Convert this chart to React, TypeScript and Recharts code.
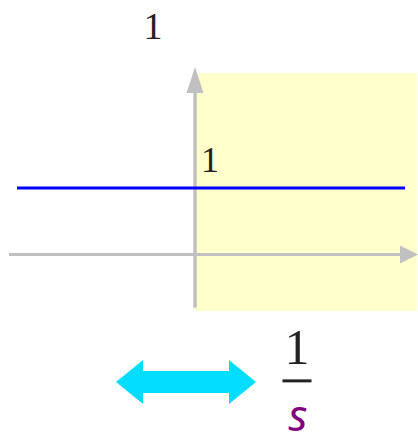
import React from 'react';
import { ComposedChart, Line, XAxis, YAxis, ReferenceArea, ReferenceLine, ReferenceDot } from 'recharts';

// f(t) = 1 drawn across the visible range
const tValues = [-3.56, 4.2];
const fValues = [1, 1];
const topLabel = '1';
const tickLabel = '1';
const numerator = '1';
const denominator = 's';

const data = tValues.map((t, i) => ({ t, f: fValues[i] }));

const GRAY = '#c0c0c0';
const SERIF = '"Liberation Serif", "DejaVu Serif", serif';

const TextShape = (text: string, size: number, dx = 0, dy = 0) => (props: any) => (
  <text x={props.cx + dx} y={props.cy + dy} textAnchor="middle" fontFamily={SERIF} fontSize={size} fill="#222">
    {text}
  </text>
);

const RightArrowHead = (props: any) => {
  const { cx, cy } = props;
  return <polygon points={`${cx},${cy - 9} ${cx + 18},${cy} ${cx},${cy + 9}`} fill={GRAY} />;
};

const UpArrowHead = (props: any) => {
  const { cx, cy } = props;
  return <polygon points={`${cx - 8.5},${cy} ${cx},${cy - 26} ${cx + 8.5},${cy}`} fill={GRAY} />;
};

const DoubleArrow = (props: any) => {
  const { cx, cy } = props;
  const half = 70, head = 27, hh = 22, sh = 11;
  const pts = [
    [cx - half, cy],
    [cx - half + head, cy - hh],
    [cx - half + head, cy - sh],
    [cx + half - head, cy - sh],
    [cx + half - head, cy - hh],
    [cx + half, cy],
    [cx + half - head, cy + hh],
    [cx + half - head, cy + sh],
    [cx - half + head, cy + sh],
    [cx - half + head, cy + hh],
  ];
  return <polygon points={pts.map(p => p.join(',')).join(' ')} fill="#00ddff" />;
};

const Fraction = (props: any) => {
  const { cx, cy } = props;
  return (
    <g>
      <text x={cx} y={cy - 17} textAnchor="middle" fontFamily={SERIF} fontSize={50} fill="#222">{numerator}</text>
      <line x1={cx - 14.5} x2={cx + 14.5} y1={cy} y2={cy} stroke="#222" strokeWidth={3} />
      <text x={cx + 1} y={cy + 50} textAnchor="middle" fontFamily='"Noto Sans", sans-serif' fontStyle="italic" fontSize={44} fill="#800080">{denominator}</text>
    </g>
  );
};

export default function App() {
  return (
    <div style={{ position: 'absolute', left: 0, top: 0, width: 418, height: 438, background: '#fff' }}>
      <ComposedChart width={418} height={438} data={data} margin={{ top: 0, right: 0, bottom: 0, left: 0 }}>
        <XAxis dataKey="t" type="number" domain={[-3.9, 4.46]} hide />
        <YAxis type="number" domain={[-2.759, 3.827]} hide />
        <ReferenceArea x1={0} x2={4.44} y1={-0.85} y2={2.73} fill="#ffffcc" fillOpacity={1} stroke="none" ifOverflow="visible" />
        <ReferenceLine segment={[{ x: -3.72, y: 0 }, { x: 4.1, y: 0 }]} stroke={GRAY} strokeWidth={3} ifOverflow="visible" />
        <ReferenceDot x={4.1} y={0} shape={RightArrowHead} ifOverflow="visible" />
        <ReferenceLine segment={[{ x: 0, y: -0.8 }, { x: 0, y: 2.43 }]} stroke={GRAY} strokeWidth={3.5} ifOverflow="visible" />
        <ReferenceDot x={0} y={2.43} shape={UpArrowHead} ifOverflow="visible" />
        <ReferenceDot x={-0.84} y={3.24} shape={TextShape(topLabel, 38)} ifOverflow="visible" />
        <ReferenceDot x={0.3} y={1.24} shape={TextShape(tickLabel, 36)} ifOverflow="visible" />
        <ReferenceDot x={-0.18} y={-1.917} shape={DoubleArrow} ifOverflow="visible" />
        <ReferenceDot x={2.04} y={-1.9} shape={Fraction} ifOverflow="visible" />
        <Line dataKey="f" stroke="#0000ff" strokeWidth={3} dot={false} activeDot={false} isAnimationActive={false} />
      </ComposedChart>
    </div>
  );
}
